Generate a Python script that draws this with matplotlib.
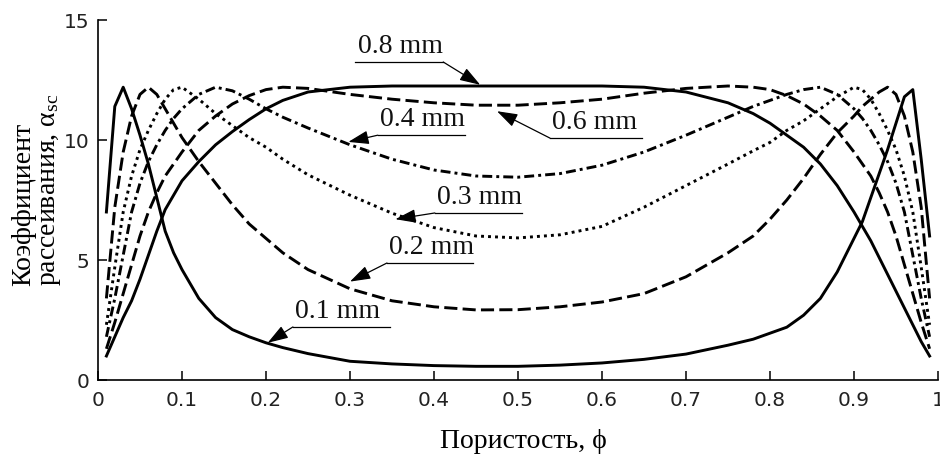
import matplotlib
matplotlib.use("Agg")
import matplotlib.pyplot as plt

# Porosity grid (x) and scattering coefficient for each pore size
phi = [0.01, 0.02, 0.03, 0.04, 0.05, 0.06, 0.07, 0.08, 0.09, 0.10,
       0.12, 0.14, 0.16, 0.18, 0.20, 0.22, 0.25, 0.30, 0.35, 0.40,
       0.45, 0.50, 0.55, 0.60, 0.65, 0.70, 0.75, 0.78, 0.80, 0.82,
       0.84, 0.86, 0.88, 0.90, 0.91, 0.92, 0.93, 0.94, 0.95, 0.96,
       0.97, 0.98, 0.99]

a01 = [7.0, 11.4, 12.2, 11.3, 10.2, 9.0, 7.6, 6.2, 5.3, 4.6,
       3.4, 2.6, 2.1, 1.8, 1.55, 1.35, 1.1, 0.78, 0.67, 0.60,
       0.57, 0.57, 0.62, 0.71, 0.86, 1.08, 1.45, 1.7, 1.95, 2.2,
       2.7, 3.4, 4.5, 5.9, 6.6, 7.6, 8.6, 9.6, 10.7, 11.8,
       12.1, 9.2, 6.0]

a02 = [3.4, 7.2, 9.5, 11.0, 11.9, 12.2, 11.9, 11.3, 10.7, 10.1,
       9.1, 8.2, 7.3, 6.5, 5.9, 5.3, 4.6, 3.8, 3.3, 3.05,
       2.92, 2.93, 3.05, 3.25, 3.6, 4.3, 5.3, 6.0, 6.7, 7.5,
       8.4, 9.4, 10.3, 11.0, 11.4, 11.7, 12.0, 12.2, 11.9, 11.0,
       9.5, 7.2, 3.4]

a03 = [2.3, 4.7, 7.0, 8.5, 9.6, 10.4, 11.1, 11.7, 12.1, 12.2,
       11.7, 11.1, 10.6, 10.1, 9.7, 9.2, 8.55, 7.7, 6.95, 6.35,
       6.0, 5.92, 6.05, 6.4, 7.2, 8.1, 9.0, 9.55, 9.9, 10.4,
       10.8, 11.3, 11.8, 12.2, 12.1, 11.7, 11.1, 10.4, 9.6, 8.5,
       7.0, 4.7, 2.3]

a04 = [1.8, 3.4, 5.2, 7.0, 8.2, 9.1, 9.8, 10.4, 10.9, 11.3,
       11.9, 12.2, 12.05, 11.7, 11.3, 10.95, 10.5, 9.8, 9.2, 8.75,
       8.5, 8.45, 8.6, 8.95, 9.5, 10.2, 10.95, 11.4, 11.65, 11.9,
       12.1, 12.2, 11.9, 11.3, 10.9, 10.4, 9.8, 9.1, 8.2, 7.0,
       5.2, 3.4, 1.8]

a06 = [1.3, 2.4, 3.6, 4.8, 6.0, 7.0, 7.8, 8.5, 9.0, 9.5,
       10.4, 11.0, 11.5, 11.85, 12.1, 12.2, 12.15, 11.9, 11.7, 11.55,
       11.45, 11.45, 11.55, 11.7, 11.95, 12.15, 12.25, 12.2, 12.1, 11.85,
       11.5, 11.0, 10.4, 9.5, 9.0, 8.5, 7.8, 7.0, 6.0, 4.8,
       3.6, 2.4, 1.3]

a08 = [1.0, 1.8, 2.6, 3.3, 4.2, 5.2, 6.2, 7.1, 7.7, 8.3,
       9.1, 9.8, 10.35, 10.85, 11.3, 11.65, 12.0, 12.2, 12.25, 12.25,
       12.25, 12.25, 12.25, 12.25, 12.2, 12.0, 11.55, 11.1, 10.7, 10.2,
       9.7, 9.0, 8.1, 7.0, 6.4, 5.8, 5.1, 4.4, 3.7, 3.0,
       2.3, 1.6, 1.0]

size_labels = ["0.1 mm", "0.2 mm", "0.3 mm", "0.4 mm", "0.6 mm", "0.8 mm"]
xticks = [0, 0.1, 0.2, 0.3, 0.4, 0.5, 0.6, 0.7, 0.8, 0.9, 1]
xticklabels = ["0", "0.1", "0.2", "0.3", "0.4", "0.5", "0.6", "0.7", "0.8", "0.9", "1"]
yticks = [0, 5, 10, 15]
yticklabels = ["0", "5", "10", "15"]

SERIF = ["Liberation Serif", "DejaVu Serif"]

fig = plt.figure(figsize=(9.4, 4.54), dpi=100)
ax = fig.add_axes([98 / 940, 74 / 454, 840 / 940, 360 / 454])

lw = 2.1
series = [
    (a01, "-"),
    (a02, (0, (4.5, 1.8))),
    (a03, (0, (1.0, 1.4))),
    (a04, (0, (3.4, 1.4, 1.0, 1.4))),
    (a06, (0, (4.5, 1.8))),
    (a08, "-"),
]
for vals, ls in series:
    ax.plot(phi, vals, color="black", lw=lw, linestyle=ls)

ax.set_xlim(0, 1)
ax.set_ylim(0, 15)
ax.spines["top"].set_visible(False)
ax.spines["right"].set_visible(False)
for s in ("left", "bottom"):
    ax.spines[s].set_linewidth(1.2)
ax.set_xticks(xticks)
ax.set_xticklabels(xticklabels)
ax.set_yticks(yticks)
ax.set_yticklabels(yticklabels)
ax.tick_params(direction="in", length=6.5, width=1.1, labelsize=14.5,
               colors="black", labelcolor="#222222")
ax.tick_params(axis="x", pad=8)
ax.tick_params(axis="y", pad=6)

# x label
fig.text(523 / 940, 1 - 441 / 454, "Пористость, ϕ", ha="center", va="center",
         fontsize=20, family=SERIF)
# y label (two lines, left aligned in rotated frame)
fig.text(37 / 940, 1 - 190 / 454, "Коэффициент\nрассеивания, $\\mathregular{\\alpha_{sc}}$",
         rotation=90, ha="center", va="center", multialignment="left",
         fontsize=20, family=SERIF, linespacing=1.0)

# annotations: (label, text left x, underline y, underline right x, arrow start x, arrow tip)
annots = [
    ("0.8 mm", 0.306, 13.25, 0.411, 0.411, (0.455, 12.3)),
    ("0.6 mm", 0.538, 10.08, 0.648, 0.538, (0.475, 11.2)),
    ("0.4 mm", 0.333, 10.2, 0.437, 0.333, (0.298, 9.92)),
    ("0.3 mm", 0.401, 6.96, 0.505, 0.401, (0.354, 6.7)),
    ("0.2 mm", 0.344, 4.875, 0.446, 0.344, (0.300, 4.1)),
    ("0.1 mm", 0.232, 2.21, 0.348, 0.232, (0.202, 1.55)),
]
for lab, x0, yu, x1, xs, tip in annots:
    ax.text(x0 + 0.003, yu + 0.12, lab, ha="left", va="bottom",
            fontsize=20, family=SERIF, color="#111111")
    ax.plot([x0, x1], [yu, yu], color="black", lw=0.9)
    ax.annotate("", xy=tip, xytext=(xs, yu),
                arrowprops=dict(arrowstyle="-|>,head_length=0.9,head_width=0.3",
                                color="black", lw=0.9, shrinkA=0, shrinkB=0,
                                mutation_scale=14))

fig.savefig("out.png", dpi=100)
